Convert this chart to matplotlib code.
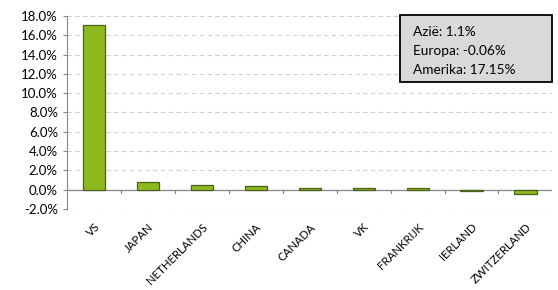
import numpy as np
import matplotlib
matplotlib.use('Agg')
import matplotlib.pyplot as plt
from matplotlib.patches import Rectangle
from matplotlib.ticker import FuncFormatter

# Data
countries = ['VS', 'JAPAN', 'NETHERLANDS', 'CHINA', 'CANADA', 'VK',
             'FRANKRIJK', 'IERLAND', 'ZWITZERLAND']
returns = [17.05, 0.83, 0.42, 0.40, 0.15, 0.15, 0.14, -0.12, -0.42]
legend_lines = ['Azië: 1.1%', 'Europa: -0.06%', 'Amerika: 17.15%']

plt.rcParams['font.family'] = ['Lato', 'DejaVu Sans']

fig = plt.figure(figsize=(5.58, 2.90), dpi=100)
ax = fig.add_axes([0.12, 0.28, 0.87, 0.665])

x = np.arange(len(countries))
ax.bar(x, returns, width=0.41, color='#8dbb1f', edgecolor='#4a5e1e',
       linewidth=0.9, zorder=3)

ax.set_xlim(-0.5, len(countries) - 0.5)
ax.set_ylim(-2, 18)
ax.set_yticks(np.arange(-2, 18.1, 2))
ax.yaxis.set_major_formatter(FuncFormatter(lambda v, p: f'{v:.1f}%'))
ax.yaxis.grid(True, linestyle=(0, (4, 3)), color='#d0d0d0', linewidth=0.8)
ax.set_axisbelow(True)

for s in ['top', 'right', 'bottom']:
    ax.spines[s].set_visible(False)
ax.spines['left'].set_color('#888888')
ax.axhline(0, color='#888888', linewidth=0.9, zorder=2)

ax.set_xticks(x)
ax.set_xticklabels(countries, rotation=45, ha='right', rotation_mode='anchor',
                   fontsize=8.2)
ax.tick_params(axis='x', length=0, pad=9)
ax.tick_params(axis='y', labelsize=9.5, length=3, color='#888888')
# small tick marks on the zero line between categories
for b in np.arange(0.5, len(countries) - 0.5, 1):
    ax.plot([b, b], [0, -0.35], color='#888888', linewidth=0.9, zorder=2)

# summary box
fig.patches.append(Rectangle((400 / 558, 1 - 82 / 290), 152 / 558, 67 / 290,
                             transform=fig.transFigure, facecolor='#d9d9d9',
                             edgecolor='black', linewidth=1.3, zorder=5))
for i, line in enumerate(legend_lines):
    fig.text(413 / 558, 1 - (32 + 19 * i) / 290, line, ha='left',
             va='center', fontsize=9.8, zorder=6)

fig.savefig('out.png', dpi=100)
